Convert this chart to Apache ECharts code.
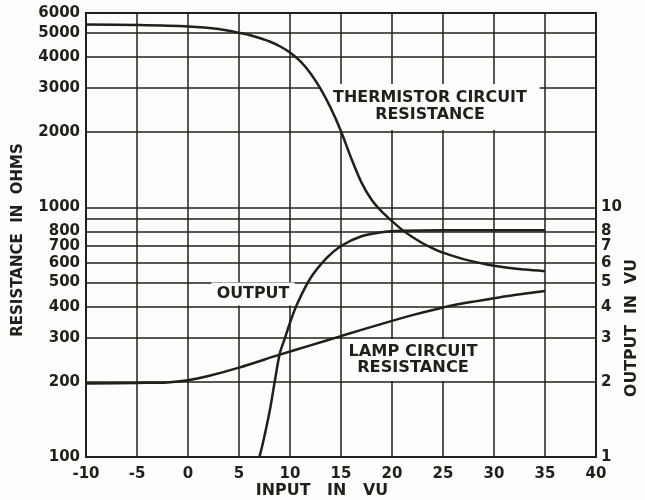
<!DOCTYPE html>
<html>
<head>
<meta charset="utf-8">
<script src="https://cdn.jsdelivr.net/npm/echarts@6/dist/echarts.min.js"></script>
<style>
html,body{margin:0;padding:0;background:#fdfdfb;}
#c{width:645px;height:500px;}
</style>
</head>
<body>
<div id="c"></div>
<script>
// ---- data (input in VU) ----
const thermX = [-10, -5, 0, 3, 5, 6, 7, 8, 9, 10, 11, 12, 13, 14, 15, 16, 17, 18, 19, 20, 21, 22, 23, 24, 25, 27, 30, 33, 35];
const thermR = [5400, 5370, 5300, 5180, 5000, 4900, 4764, 4613, 4416, 4169, 3846, 3443, 2979, 2495, 2018, 1574, 1259, 1072, 960, 880, 812, 760, 718, 685, 658, 620, 583, 563, 555];

const lampX = [-10, -5, -2, 0, 2, 5, 9, 12, 15, 20, 22, 24, 26, 28, 30, 32, 35];
const lampR = [197, 198, 199, 203, 211, 228, 257, 280, 305, 351, 370, 388, 405, 419, 432, 445, 462];

const outX = [7, 7.35, 8, 8.5, 9, 9.5, 10, 10.7, 12, 13.6, 15, 17, 19, 21, 25, 30, 35];
const outVU = [1.0, 1.14, 1.52, 2.0, 2.6, 2.99, 3.45, 4.1, 5.2, 6.27, 7.0, 7.66, 7.95, 8.05, 8.1, 8.1, 8.1];

const leftTicks = [100, 200, 300, 400, 500, 600, 700, 800, 900, 1000, 2000, 3000, 4000, 5000, 6000];
const leftLabels = [100, 200, 300, 400, 500, 600, 700, 800, 1000, 2000, 3000, 4000, 5000, 6000];
const rightLabels = [1, 2, 3, 4, 5, 6, 7, 8, 10];

const lg = Math.log10;
const ink = '#1f201c';
const paper = '#fdfdfb';
const FONT = 'DejaVu Sans';
const F = 'bold 15px "DejaVu Sans"';

const chart = echarts.init(document.getElementById('c'), null, {renderer: 'canvas'});
chart.setOption({
  backgroundColor: paper,
  animation: false,
  grid: {left: 86, right: 49, top: 13, bottom: 43, show: true, borderColor: ink, borderWidth: 2, backgroundColor: 'transparent'},
  xAxis: {
    type: 'value', min: -10, max: 40, interval: 5,
    axisLine: {show: true, onZero: false, lineStyle: {color: ink, width: 2}},
    axisTick: {show: false},
    splitLine: {show: true, lineStyle: {color: ink, width: 1.5}},
    axisLabel: {color: ink, fontFamily: FONT, fontWeight: 'bold', fontSize: 15, margin: 10,
      formatter: v => String(v)}
  },
  yAxis: [
    {
      type: 'value', min: lg(100), max: lg(6000),
      axisLine: {show: true, onZero: false, lineStyle: {color: ink, width: 2}},
      axisTick: {show: false, customValues: leftTicks.map(lg)},
      splitLine: {show: true, lineStyle: {color: ink, width: 1.5}},
      axisLabel: {color: ink, fontFamily: FONT, fontWeight: 'bold', fontSize: 15, margin: 6,
        customValues: leftLabels.map(lg),
        formatter: v => String(Math.round(Math.pow(10, v)))}
    },
    {
      type: 'value', min: 0, max: lg(60), position: 'right',
      axisLine: {show: true, onZero: false, lineStyle: {color: ink, width: 2}},
      axisTick: {show: false, customValues: rightLabels.map(lg)},
      splitLine: {show: false},
      axisLabel: {color: ink, fontFamily: FONT, fontWeight: 'bold', fontSize: 15, margin: 5,
        customValues: rightLabels.map(lg),
        formatter: v => String(Math.round(Math.pow(10, v)))}
    }
  ],
  series: [
    {type: 'line', name: 'thermistor', yAxisIndex: 0, smooth: 0.3, symbol: 'none', z: 5,
     lineStyle: {color: ink, width: 2.5},
     data: thermX.map((x, i) => [x, lg(thermR[i])])},
    {type: 'line', name: 'lamp', yAxisIndex: 0, smooth: 0.3, symbol: 'none', z: 5,
     lineStyle: {color: ink, width: 2.5},
     data: lampX.map((x, i) => [x, lg(lampR[i])])},
    {type: 'line', name: 'output', yAxisIndex: 1, smooth: 0.3, symbol: 'none', z: 5,
     lineStyle: {color: ink, width: 2.5},
     data: outX.map((x, i) => [x, lg(outVU[i])])}
  ],
  graphic: {
    z: 1,
    elements: [
    {type: 'text', x: 430, y: 107, z: 1, scaleX: 1.06,
     style: {text: 'THERMISTOR CIRCUIT\nRESISTANCE', align: 'center', verticalAlign: 'middle', fill: ink,
       font: F, lineHeight: 17, backgroundColor: paper, padding: [6, 12, 6, 12]}},
    {type: 'text', x: 253, y: 294, z: 1, scaleX: 1.06,
     style: {text: 'OUTPUT', align: 'center', verticalAlign: 'middle', fill: ink, font: F,
       backgroundColor: paper, padding: [4, 5, 4, 5]}},
    {type: 'text', x: 413, y: 360, z: 1, scaleX: 1.08,
     style: {text: 'LAMP CIRCUIT\nRESISTANCE', align: 'center', verticalAlign: 'middle', fill: ink,
       font: F, lineHeight: 16, backgroundColor: paper, padding: [5, 6, 5, 6]}},
    {type: 'text', x: 322, y: 491, z: 1, scaleX: 1.06,
     style: {text: 'INPUT   IN   VU', align: 'center', verticalAlign: 'middle', fill: ink, font: F}},
    {type: 'text', x: 18, y: 240, rotation: Math.PI / 2, z: 1,
     style: {text: 'RESISTANCE  IN  OHMS', fill: ink, font: F, align: 'center', verticalAlign: 'middle'}},
    {type: 'text', x: 632, y: 328, rotation: Math.PI / 2, z: 1, scaleX: 1.05,
     style: {text: 'OUTPUT  IN  VU', fill: ink, font: F, align: 'center', verticalAlign: 'middle'}}
    ]
  }
});
</script>
</body>
</html>
